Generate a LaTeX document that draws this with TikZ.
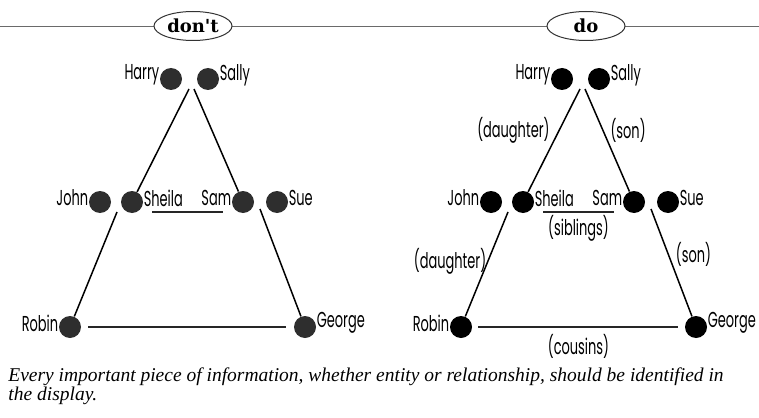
\documentclass[tikz,border=0pt]{standalone}
\usepackage{fontspec}
\usepackage{xcolor}
\usetikzlibrary{shapes.geometric}
\newfontfamily\namefont[FakeStretch=0.6]{Poppins}
\newfontfamily\slabfont{DejaVu Serif}
\newfontfamily\capfont{Liberation Serif}
\definecolor{dotgrey}{HTML}{2E2E2E}
\definecolor{rulegrey}{HTML}{6A6A6A}
\tikzset{
  person/.style={circle, fill=#1, minimum size=11pt, inner sep=0pt,
    label distance=0.5pt},
  person/.default=black,
  every label/.style={font=\namefont\fontsize{10.8pt}{12pt}\selectfont,
    inner sep=0pt, yshift=2pt},
  kin/.style={line width=0.75pt, draw=black},
  tie/.style={line width=0.55pt, draw=black!85},
  rel/.style={font=\namefont\fontsize{10.8pt}{12pt}\selectfont, inner sep=0.5pt},
  rule/.style={line width=0.4pt, draw=rulegrey},
  tab/.style={ellipse, draw=black!80, line width=0.5pt, fill=white,
    minimum width=39pt, minimum height=14.5pt, inner sep=0pt,
    font=\slabfont\bfseries\fontsize{9pt}{10pt}\selectfont},
  caption/.style={align=left, inner sep=0pt,
    font=\capfont\itshape\fontsize{9.75pt}{9.8pt}\selectfont},
}

\begin{document}
\begin{tikzpicture}[x=0.5pt, y=-0.5pt]
  \useasboundingbox (0,0) rectangle (759,417);

  % heading rule with the two tabs
  \coordinate (ruleL) at (0,26);
  \coordinate (ruleR) at (759,26);
  \draw[rule] (ruleL) -- (ruleR);
  \node[tab] (dont) at (193,26) {don't};
  \node[tab] (do) at (586,26) {do};

  % left: people only
  \node[person=dotgrey, label=left:Harry] (lharry) at (171,79) {};
  \node[person=dotgrey, label=right:Sally] (lsally) at (208,79) {};
  \node[person=dotgrey, label=left:John] (ljohn) at (100,202) {};
  \node[person=dotgrey, label=right:Sheila] (lsheila) at (132,202) {};
  \node[person=dotgrey, label=left:Sam] (lsam) at (243,202) {};
  \node[person=dotgrey, label=right:Sue] (lsue) at (277,202) {};
  \node[person=dotgrey, label=left:Robin] (lrobin) at (70,327) {};
  \node[person=dotgrey, label=right:George] (lgeorge) at (305,327) {};
  \coordinate (lhsa) at (189,89);
  \coordinate (lhsb) at (194,89);
  \coordinate (ljs) at (117,212);
  \coordinate (lss) at (260,209);

  \draw[kin] (lhsa) -- (lsheila);
  \draw[kin] (lhsb) -- (lsam);
  \draw[kin] (ljs) -- (lrobin);
  \draw[kin] (lss) -- (lgeorge);
  \draw[tie, shorten <=4.5pt, shorten >=4.5pt] ([yshift=-5pt]lsheila.east) -- ([yshift=-5pt]lsam.west);
  \draw[tie, shorten <=3.5pt, shorten >=4pt] (lrobin) -- (lgeorge);

  % right: people and relationships
  \node[person, label=left:Harry] (rharry) at (562,79) {};
  \node[person, label=right:Sally] (rsally) at (599,79) {};
  \node[person, label=left:John] (rjohn) at (491,202) {};
  \node[person, label=right:Sheila] (rsheila) at (523,202) {};
  \node[person, label=left:Sam] (rsam) at (634,202) {};
  \node[person, label=right:Sue] (rsue) at (668,202) {};
  \node[person, label=left:Robin] (rrobin) at (461,327) {};
  \node[person, label=right:George] (rgeorge) at (696,327) {};
  \coordinate (rhsa) at (580,89);
  \coordinate (rhsb) at (585,89);
  \coordinate (rjs) at (508,212);
  \coordinate (rss) at (651,209);

  \draw[kin] (rhsa) -- (rsheila) node[rel, pos=0.4, left=4pt] (daughterA) {(daughter)};
  \draw[kin] (rhsb) -- (rsam) node[rel, pos=0.4, right=3pt] (sonA) {(son)};
  \draw[kin] (rjs) -- (rrobin) node[rel, pos=0.47, left=0pt] (daughterB) {(daughter)};
  \draw[kin] (rss) -- (rgeorge) node[rel, pos=0.42, right=3pt] (sonB) {(son)};
  \draw[tie, shorten <=4.5pt, shorten >=4.5pt] ([yshift=-5pt]rsheila.east) -- ([yshift=-5pt]rsam.west)
    node[rel, midway, below=1pt] (siblings) {(siblings)};
  \draw[tie, shorten <=3pt, shorten >=3.5pt] (rrobin) -- (rgeorge)
    node[rel, midway, below=3pt] (cousins) {(cousins)};

  % caption
  \node[caption, anchor=north west] (note) at (8,367)
    {Every important piece of information, whether entity or relationship, should be identified in\\the display.};
\end{tikzpicture}
\end{document}
